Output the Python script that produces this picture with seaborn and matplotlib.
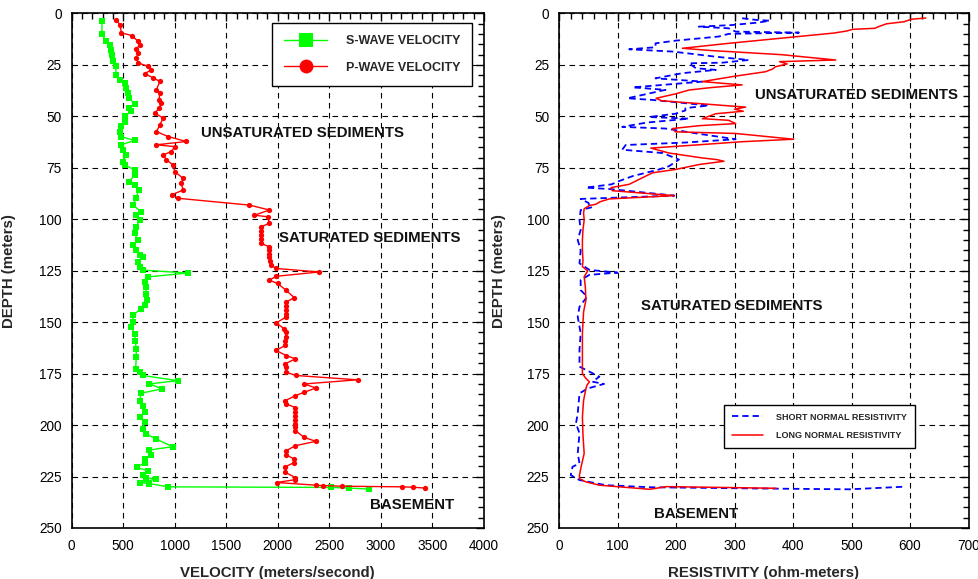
import numpy as np
import pandas as pd
import matplotlib
matplotlib.use("Agg")
import matplotlib.pyplot as plt
import seaborn as sns
from matplotlib.ticker import MultipleLocator
from matplotlib.lines import Line2D

# ---------------- data ----------------
s_depth = [3.7, 10.2, 13.5, 15.1, 17.5, 20.0, 23.2, 25.7, 29.7, 32.2, 33.8, 36.2, 38.6, 41.1,
           43.9, 46.0, 47.6, 50.0, 52.5, 54.9, 57.4, 59.8, 61.7, 63.8, 66.3, 68.7, 72.0, 73.6,
           76.0, 78.5, 81.7, 83.3, 85.8, 89.5, 93.1, 96.3, 98.0, 100.4, 103.6, 106.9, 110.1,
           112.6, 115.0, 117.4, 118.3, 120.7, 123.1, 124.7, 126.1, 128.0, 130.5, 132.9, 136.1,
           139.4, 141.8, 143.4, 146.7, 150.0, 152.4, 155.6, 158.9, 163.0, 167.0, 172.7, 174.3,
           175.9, 178.4, 180.0, 182.4, 184.5, 188.1, 190.5, 193.8, 196.2, 198.7, 201.9, 204.3,
           206.8, 210.5, 212.1, 214.4, 216.5, 218.2, 220.6, 222.2, 224.3, 225.5, 226.3, 227.9,
           228.4, 230.0, 230.3, 230.6, 231.1]
s_vel = [294, 294, 336, 368, 384, 390, 400, 426, 432, 465, 513, 529, 545, 561,
         610, 561, 578, 513, 513, 481, 465, 481, 610, 481, 497, 529, 497, 513,
         610, 610, 561, 610, 650, 627, 594, 674, 627, 659, 627, 610, 642,
         594, 627, 659, 691, 642, 659, 691, 1126, 739, 707, 723, 723,
         730, 707, 674, 594, 594, 578, 610, 615, 627, 627, 620, 659,
         691, 1029, 755, 878, 674, 659, 691, 707, 659, 707, 691, 723,
         820, 981, 755, 772, 716, 707, 633, 739, 691, 723, 820, 665,
         755, 932, 2514, 2692, 2886]

p_depth = [3.3, 5.4, 9.4, 10.7, 13.5, 15.1, 17.2, 19.1, 21.6, 24.0, 25.7, 27.3, 29.2, 31.3,
           33.0, 37.0, 38.6, 41.9, 43.5, 46.0, 48.4, 50.8, 54.1, 57.4, 59.8, 62.2, 63.8, 64.7,
           67.1, 68.7, 71.1, 73.6, 76.8, 80.1, 82.5, 85.8, 88.0, 89.8, 93.1, 95.5, 98.0, 98.8,
           102.0, 103.6, 105.5, 107.5, 109.5, 111.7, 113.4, 115.0, 117.0, 118.3, 120.5, 122.3,
           123.9, 125.6, 127.7, 129.6, 131.2, 134.5, 138.1, 140.2, 142.0, 144.0, 146.0, 147.5,
           150.4, 153.2, 155.0, 157.0, 159.0, 161.3, 163.7, 166.2, 167.8, 170.2, 172.0, 174.3,
           175.9, 178.0, 180.0, 182.0, 184.0, 185.7, 188.1, 189.7, 191.5, 193.5, 195.5, 197.5,
           199.5, 201.0, 202.7, 206.0, 207.9, 210.0, 212.5, 214.5, 216.5, 218.2, 220.2, 223.0,
           225.5, 226.5, 227.9, 229.2, 229.4, 229.7, 230.0, 230.2, 230.6]
p_vel = [435, 468, 483, 581, 645, 661, 629, 645, 629, 645, 742, 774, 710, 791,
         856, 823, 856, 848, 871, 848, 806, 888, 856, 823, 936, 1113, 823, 1000,
         968, 888, 920, 983, 1000, 1081, 1064, 1081, 975, 1032, 1725, 1919, 1774, 1903,
         1919, 1838, 1838, 1838, 1838, 1838, 1919, 1919, 1919, 1919, 1925, 1935,
         1983, 2402, 1983, 1919, 1999, 2080, 2161, 2080, 2080, 2080, 2080, 2080,
         1983, 2064, 2080, 2080, 2073, 2073, 1983, 2080, 2171, 2073, 2080, 2080,
         2177, 2774, 2257, 2370, 2257, 2171, 2073, 2080, 2171, 2171, 2171, 2171,
         2171, 2171, 2171, 2257, 2370, 2171, 2080, 2080, 2161, 2161, 2073, 2073,
         2171, 2171, 1990, 2370, 2434, 2622, 3209, 3312, 3428]

long_depth = [2.2, 2.8, 4.0, 5.0, 6.5, 7.2, 7.7, 8.5, 9.5, 12.0, 14.5, 16.9, 18.0, 20.0, 22.6,
              23.4, 24.5, 25.9, 27.0, 28.3, 30.5, 33.1, 34.7, 36.0, 37.2, 39.0, 41.2, 42.4,
              44.0, 45.5, 46.5, 47.5, 48.7, 51.1, 51.9, 53.5, 54.5, 55.9, 57.5, 58.3, 61.1,
              62.3, 63.9, 65.4, 67.8, 70.2, 71.0, 71.8, 73.4, 75.8, 77.4, 80.6, 83.0, 84.6,
              86.1, 88.5, 90.1, 91.5, 92.7, 93.3, 94.9, 97.0, 100.3, 105.0, 110.0, 115.0,
              120.0, 123.0, 125.1, 126.5, 127.9, 133.0, 139.2, 145.0, 150.0, 155.4, 165.0,
              174.9, 177.0, 179.0, 180.5, 182.2, 188.0, 196.0, 205.0, 213.8, 220.0, 224.3,
              226.0, 227.5, 229.2, 231.2, 229.9, 230.7]
long_res = [627, 602, 590, 560, 545, 540, 502, 492, 470, 380, 290, 211, 260, 380, 473,
            377, 390, 370, 365, 353, 300, 245, 313, 260, 222, 200, 166, 175,
            250, 319, 300, 315, 268, 245, 290, 302, 240, 194, 199, 302, 401,
            313, 234, 157, 188, 245, 270, 282, 239, 199, 160, 137, 120, 89,
            91, 197, 86, 70, 63, 52, 43, 42, 43, 41, 40, 40,
            41, 40, 49, 46, 43, 45, 46, 42, 41, 40, 40,
            40, 45, 52, 48, 46, 42, 40, 41, 43, 38, 35,
            35, 45, 69, 155, 184, 371]

short_depth = [2.3, 3.1, 3.5, 4.4, 5.6, 6.4, 7.2, 8.8, 9.3, 9.9, 11.2, 13.2, 14.5, 16.4, 17.4,
               18.5, 21.0, 22.6, 23.9, 24.2, 26.6, 27.4, 29.0, 31.5, 33.1, 35.9, 37.1, 41.2,
               42.0, 44.4, 44.7, 46.0, 47.1, 48.7, 50.3, 51.1, 53.0, 55.1, 55.9, 58.5, 61.1,
               62.7, 63.9, 66.2, 67.8, 71.0, 74.2, 75.8, 79.0, 81.4, 83.0, 84.6, 85.4, 88.5,
               90.1, 92.0, 93.0, 94.1, 95.5, 100.3, 105.2, 110.0, 115.0, 121.4, 124.6, 125.9,
               127.0, 129.5, 134.4, 137.6, 142.5, 147.3, 155.4, 163.5, 171.6, 176.5, 178.9,
               180.0, 182.2, 184.6, 194.3, 199.2, 204.0, 213.8, 218.6, 220.3, 224.3, 226.7,
               229.2, 230.2, 230.8, 231.2, 229.9]
short_res = [313, 336, 360, 341, 296, 239, 290, 302, 410, 290, 273, 199, 165, 165, 120,
             194, 268, 324, 279, 222, 234, 268, 211, 165, 245, 126, 182, 117,
             160, 245, 256, 216, 216, 199, 154, 222, 150, 108, 182, 240, 302,
             216, 114, 108, 177, 205, 188, 171, 126, 103, 90, 46, 91, 197,
             37, 50, 52, 57, 37, 35, 37, 32, 37, 35, 52, 100,
             52, 37, 37, 48, 35, 32, 37, 35, 35, 69, 57,
             77, 49, 35, 32, 29, 35, 32, 35, 23, 20, 35,
             80, 155, 336, 497, 593]

depth_ticks = [0, 25, 50, 75, 100, 125, 150, 175, 200, 225, 250]
vel_ticks = [0, 500, 1000, 1500, 2000, 2500, 3000, 3500, 4000]
res_ticks = [0, 100, 200, 300, 400, 500, 600, 700]

# ---------------- style ----------------
sns.set_theme(style="white")
plt.rcParams["font.family"] = ["Liberation Sans", "DejaVu Sans"]
plt.rcParams["axes.edgecolor"] = "black"
plt.rcParams["axes.linewidth"] = 1.2

fig = plt.figure(figsize=(9.79, 5.79), dpi=100)
axL = fig.add_axes([0.0732, 0.0881, 0.4211, 0.8886])
axR = fig.add_axes([0.5710, 0.0881, 0.4183, 0.8886])

df_s = pd.DataFrame({"vel": s_vel, "depth": s_depth})
df_p = pd.DataFrame({"vel": p_vel, "depth": p_depth})
df_l = pd.DataFrame({"res": long_res, "depth": long_depth})
df_sh = pd.DataFrame({"res": short_res, "depth": short_depth})

sns.lineplot(data=df_s, x="vel", y="depth", sort=False, estimator=None, ax=axL,
             color="#00FF00", lw=1.0, marker="s", markersize=4.4, markeredgewidth=0,
             zorder=4)
sns.lineplot(data=df_p, x="vel", y="depth", sort=False, estimator=None, ax=axL,
             color="#FF0000", lw=1.0, marker="o", markersize=3.8, markeredgewidth=0,
             zorder=5)

sns.lineplot(data=df_sh, x="res", y="depth", sort=False, estimator=None, ax=axR,
             color="#0000FF", lw=1.3, linestyle=(0, (3.5, 2.2)), zorder=4)
sns.lineplot(data=df_l, x="res", y="depth", sort=False, estimator=None, ax=axR,
             color="#FF0000", lw=1.1, zorder=5)


def style_axes(ax, xticks, xmax, xminor, xlabel, ylabelpad):
    ax.set_xlim(0, xmax)
    ax.set_ylim(250, 0)
    ax.set_xticks(xticks)
    ax.set_yticks(depth_ticks)
    ax.xaxis.set_minor_locator(MultipleLocator(xminor))
    ax.yaxis.set_minor_locator(MultipleLocator(5))
    ax.tick_params(which="both", direction="in", top=True, right=True,
                   colors="black", labelsize=9.8, width=1.0)
    ax.tick_params(which="major", length=6)
    ax.tick_params(axis="x", which="major", pad=8)
    ax.tick_params(axis="y", which="major", pad=7)
    ax.tick_params(which="minor", length=4)
    ax.grid(True, which="major", color="black", linestyle=(0, (5, 4)), linewidth=0.8)
    for sp in ax.spines.values():
        sp.set_visible(True)
        sp.set_color("black")
        sp.set_linewidth(1.2)
        sp.set_zorder(6)
    ax.set_xlabel(xlabel, fontsize=10.8, fontweight="bold", labelpad=9)
    ax.set_ylabel("DEPTH (meters)", fontsize=10.8, fontweight="bold", labelpad=ylabelpad)


style_axes(axL, vel_ticks, 4000, 100, "VELOCITY (meters/second)", 17)
style_axes(axR, res_ticks, 700, 20, "RESISTIVITY (ohm-meters)", 15)

# legends
hL = [Line2D([], [], color="#00FF00", lw=1.0, marker="s", markersize=10, markeredgewidth=0),
      Line2D([], [], color="#FF0000", lw=1.0, marker="o", markersize=10, markeredgewidth=0)]
legL = axL.legend(hL, ["S-WAVE VELOCITY", "P-WAVE VELOCITY"], loc="upper right",
                  bbox_to_anchor=(0.972, 0.982), prop={"weight": "bold", "size": 9},
                  handlelength=3.4, handletextpad=1.5, borderpad=1.0, labelspacing=1.15,
                  frameon=True, fancybox=False, framealpha=1, edgecolor="black",
                  borderaxespad=0)
legL.get_frame().set_linewidth(1.0)

hR = [Line2D([], [], color="#0000FF", lw=1.3, linestyle=(0, (3.5, 2.2))),
      Line2D([], [], color="#FF0000", lw=1.1)]
legR = axR.legend(hR, ["SHORT NORMAL RESISTIVITY", "LONG NORMAL RESISTIVITY"],
                  loc="upper left", bbox_to_anchor=(0.403, 0.240),
                  prop={"weight": "bold", "size": 6.5}, handlelength=3.4, handletextpad=1.5,
                  borderpad=0.9, labelspacing=1.0, frameon=True, fancybox=False,
                  framealpha=1, edgecolor="black", borderaxespad=0)
legR.get_frame().set_linewidth(1.0)

# annotations
kw = dict(fontsize=10.8, fontweight="bold", ha="center", va="center", color="#111111", zorder=7)
axL.text(2240, 58, "UNSATURATED SEDIMENTS", **kw)
axL.text(2890, 109, "SATURATED SEDIMENTS", **kw)
axL.text(3300, 239, "BASEMENT", **kw)
axR.text(508, 39.6, "UNSATURATED SEDIMENTS", **kw)
axR.text(295, 142, "SATURATED SEDIMENTS", **kw)
axR.text(235, 243, "BASEMENT", **kw)

fig.savefig("out.png", dpi=100)
